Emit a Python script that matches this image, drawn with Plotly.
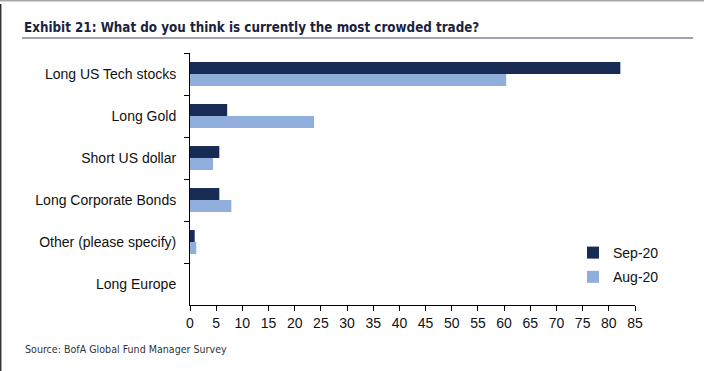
import plotly.graph_objects as go

categories = ["Long US Tech stocks", "Long Gold", "Short US dollar",
              "Long Corporate Bonds", "Other (please specify)", "Long Europe"]
sep20 = [82.2, 7.1, 5.6, 5.6, 0.9, 0.0]
aug20 = [60.4, 23.7, 4.4, 7.9, 1.2, 0.0]
tick_vals = list(range(0, 90, 5))

SEP_COLOR = "#172b55"
AUG_COLOR = "#8faedc"

L, R, T, B = 190, 69, 53, 66
W, H = 704, 371
PW, PH = W - L - R, H - T - B


def px_x(x):
    return (x - L) / PW


def px_y(y):
    return 1 - (y - T) / PH


fig = go.Figure()
fig.add_trace(go.Bar(y=categories, x=sep20, name="Sep-20", orientation="h", legendgroup="a",
                     marker=dict(color=SEP_COLOR, line=dict(width=0))))
fig.add_trace(go.Bar(y=categories, x=aug20, name="Aug-20", orientation="h", legendgroup="b",
                     marker=dict(color=AUG_COLOR, line=dict(width=0))))

fig.update_layout(
    width=W, height=H,
    margin=dict(l=L, r=R, t=T, b=B, autoexpand=False),
    paper_bgcolor="white", plot_bgcolor="white",
    barmode="group", bargap=0.43, bargroupgap=0,
    font=dict(family="Liberation Sans, Arial, sans-serif", size=14, color="#111111"),
    showlegend=True,
    legend=dict(x=px_x(573), y=px_y(237), xanchor="left", yanchor="top",
                font=dict(size=14, color="#111111"), traceorder="grouped",
                itemwidth=30, tracegroupgap=3, bgcolor="rgba(0,0,0,0)"),
    xaxis=dict(range=[0, 85], tickvals=tick_vals, ticktext=[str(v) for v in tick_vals],
               showgrid=False, zeroline=False, showline=True, linecolor="#000000", linewidth=1,
               ticks="outside", ticklen=5, tickcolor="#000000", tickfont=dict(size=14),
               fixedrange=True),
    yaxis=dict(categoryorder="array", categoryarray=categories, autorange="reversed",
               showgrid=False, zeroline=False, showline=True, linecolor="#000000", linewidth=1,
               ticks="outside", ticklen=5, tickcolor="#000000", tickson="boundaries",
               tickfont=dict(size=14), ticklabelstandoff=10, fixedrange=True),
)

fig.add_annotation(text="<b>Exhibit 21: What do you think is currently the most crowded trade?</b>",
                   xref="paper", yref="paper", x=px_x(22), y=px_y(28), xanchor="left", yanchor="middle",
                   showarrow=False,
                   font=dict(family="DejaVu Sans Condensed, sans-serif", size=13.3, color="#1a2340"))
fig.add_annotation(text="Source: BofA Global Fund Manager Survey",
                   xref="paper", yref="paper", x=px_x(23), y=px_y(349), xanchor="left", yanchor="middle",
                   showarrow=False,
                   font=dict(family="DejaVu Sans Condensed, sans-serif", size=10.6, color="#333333"))
# header rule under title
fig.add_shape(type="line", xref="paper", yref="paper", x0=px_x(22), x1=px_x(693),
              y0=px_y(38), y1=px_y(38), line=dict(color="#a0a4ac", width=2))
# top border
fig.add_shape(type="line", xref="paper", yref="paper", x0=px_x(0), x1=px_x(704),
              y0=px_y(0.5), y1=px_y(0.5), line=dict(color="#a8a8a8", width=2))
# left border
fig.add_shape(type="line", xref="paper", yref="paper", x0=px_x(0.7), x1=px_x(0.7),
              y0=px_y(4), y1=px_y(371), line=dict(color="#333333", width=1.5))

fig.write_html("out.html", config={"displayModeBar": False},
               post_script="document.body.style.margin='0';document.body.style.overflow='hidden';")
